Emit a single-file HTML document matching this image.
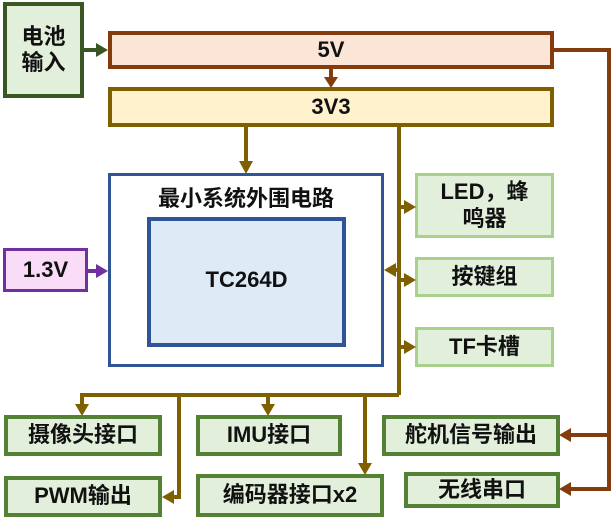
<!DOCTYPE html>
<html><head><meta charset="utf-8"><style>
body{margin:0;width:611px;height:518px;background:#fff;overflow:hidden;position:relative;font-family:"Liberation Sans","Noto Sans CJK SC",sans-serif;}
.b{position:absolute;box-sizing:border-box;display:flex;align-items:center;justify-content:center;text-align:center;font-weight:bold;font-size:22px;color:#111;line-height:1.2}
svg{position:absolute;left:0;top:0}
</style></head><body>
<div class="b" style="left:3px;top:2px;width:81px;height:96px;border:4px solid #385723;background:#e2efda;">电池<br>输入</div>
<div class="b" style="left:108px;top:31px;width:446px;height:38px;border:4px solid #843c0c;background:#fbe5d6;">5V</div>
<div class="b" style="left:108px;top:87px;width:446px;height:40px;border:4px solid #7f6000;background:#fff2cc;">3V3</div>
<div class="b" style="left:108px;top:173px;width:276px;height:194px;border:3px solid #2f5597;background:#fff;align-items:flex-start;padding-top:10px;">最小系统外围电路</div>
<div class="b" style="left:147px;top:217px;width:199px;height:130px;border:4px solid #2f5597;background:#deebf7;padding-bottom:4px;">TC264D</div>
<div class="b" style="left:3px;top:248px;width:85px;height:44px;border:3px solid #7030a0;background:#f8dcf8;">1.3V</div>
<div class="b" style="left:415px;top:173px;width:139px;height:65px;border:3px solid #a9d18e;background:#e2efda;">LED，蜂<br>鸣器</div>
<div class="b" style="left:415px;top:257px;width:139px;height:40px;border:3px solid #a9d18e;background:#e2efda;">按键组</div>
<div class="b" style="left:415px;top:327px;width:139px;height:40px;border:3px solid #a9d18e;background:#e2efda;">TF卡槽</div>
<div class="b" style="left:4px;top:415px;width:158px;height:41px;border:4px solid #548235;background:#e2efda;">摄像头接口</div>
<div class="b" style="left:196px;top:415px;width:146px;height:41px;border:4px solid #548235;background:#e2efda;">IMU接口</div>
<div class="b" style="left:382px;top:415px;width:178px;height:41px;border:4px solid #548235;background:#e2efda;">舵机信号输出</div>
<div class="b" style="left:4px;top:476px;width:158px;height:41px;border:4px solid #548235;background:#e2efda;">PWM输出</div>
<div class="b" style="left:196px;top:474px;width:188px;height:43px;border:4px solid #548235;background:#e2efda;">编码器接口x2</div>
<div class="b" style="left:404px;top:472px;width:156px;height:36px;border:4px solid #548235;background:#e2efda;">无线串口</div>
<svg width="611" height="518">
<g fill="none" stroke-width="4">
<line x1="84" y1="50" x2="100" y2="50" stroke="#385723"/>
<line x1="331" y1="69" x2="331" y2="80" stroke="#843c0c"/>
<polyline points="554,50 609,50 609,489 568,489" stroke="#843c0c"/>
<line x1="609" y1="435" x2="568" y2="435" stroke="#843c0c"/>
<line x1="88" y1="271" x2="100" y2="271" stroke="#7030a0"/>
<g stroke="#7f6000">
<line x1="246" y1="127" x2="246" y2="164"/>
<line x1="399" y1="127" x2="399" y2="395"/>
<line x1="399" y1="207" x2="407" y2="207"/>
<line x1="399" y1="280" x2="407" y2="280"/>
<line x1="399" y1="270" x2="392" y2="270"/>
<line x1="399" y1="347" x2="407" y2="347"/>
<polyline points="82,408 82,395 399,395"/>
<polyline points="179,395 179,497 172,497"/>
<line x1="268" y1="395" x2="268" y2="408"/>
<line x1="365" y1="395" x2="365" y2="466"/>
</g></g>
<polygon points="108,50 96,43 96,57" fill="#385723"/>
<polygon points="331,88 324,77 338,77" fill="#843c0c"/>
<polygon points="559,489 571,482 571,496" fill="#843c0c"/>
<polygon points="559,435 571,428 571,442" fill="#843c0c"/>
<polygon points="108,271 96,264 96,278" fill="#7030a0"/>
<g fill="#7f6000">
<polygon points="246,174 239,161 253,161"/>
<polygon points="416,207 404,200 404,214"/>
<polygon points="416,280 404,273 404,287"/>
<polygon points="384,270 396,263 396,277"/>
<polygon points="416,347 404,340 404,354"/>
<polygon points="82,416 75,404 89,404"/>
<polygon points="268,416 261,404 275,404"/>
<polygon points="365,475 358,463 372,463"/>
<polygon points="162,497 174,490 174,504"/>
</g>
</svg>
</body></html>
